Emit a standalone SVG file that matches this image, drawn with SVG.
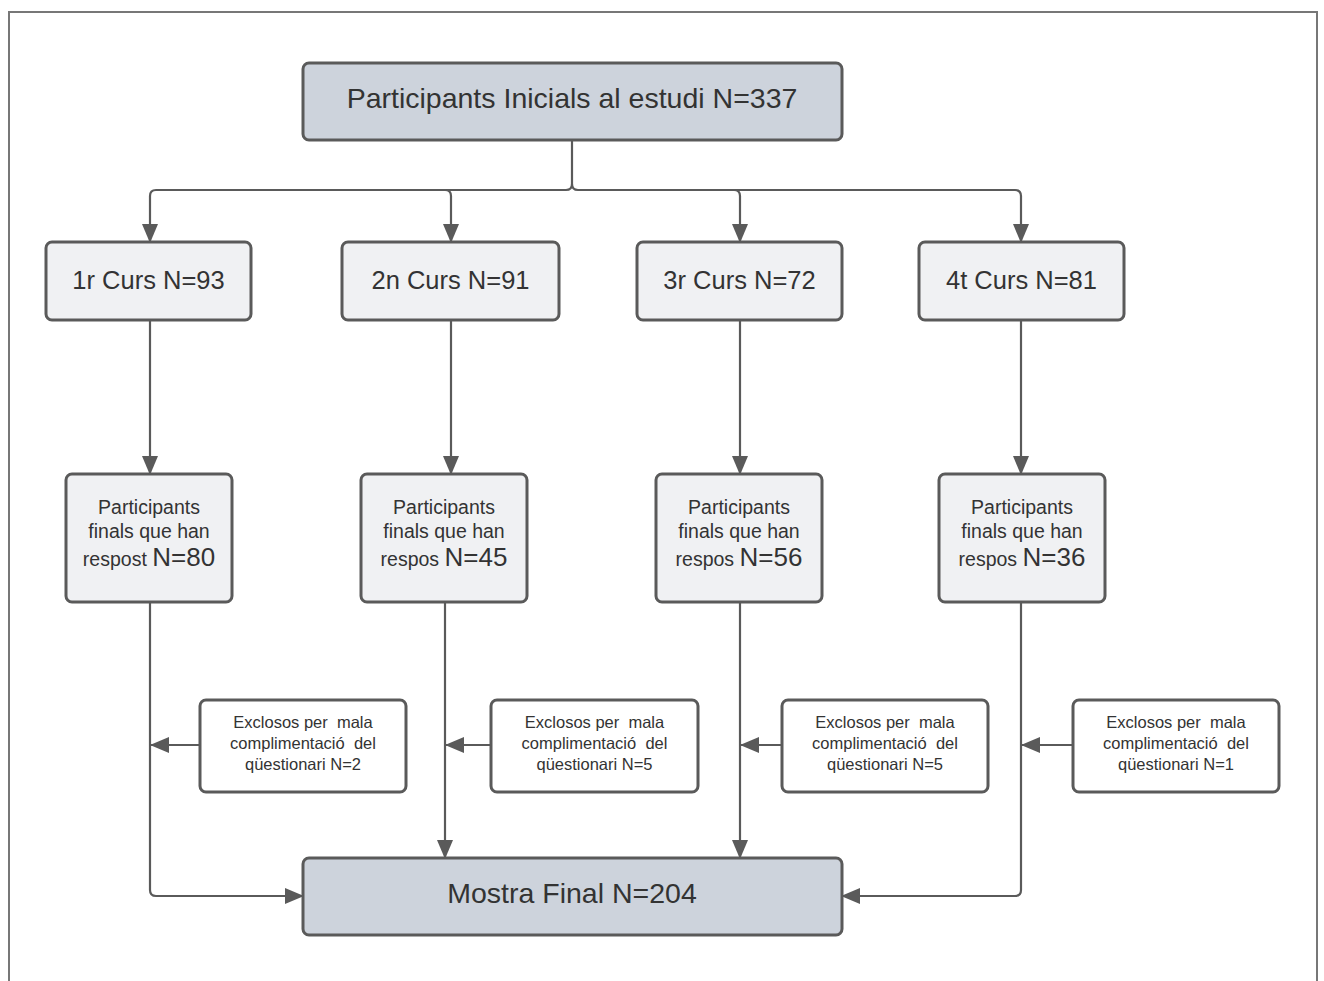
<svg xmlns="http://www.w3.org/2000/svg" width="1324" height="981" viewBox="0 0 1324 981">
<defs>
<marker id="ah" markerUnits="userSpaceOnUse" markerWidth="19" markerHeight="16" refX="18" refY="8" orient="auto">
<path d="M0,0 L19,8 L0,16 Z" fill="#5a5a5a"/>
</marker>
<style>
.frame{fill:none;stroke:#777;stroke-width:2}
.dark{fill:#cdd3dc;stroke:#5a5a5a;stroke-width:3}
.light{fill:#f0f1f3;stroke:#5a5a5a;stroke-width:3}
.white{fill:#fff;stroke:#5a5a5a;stroke-width:3}
.conn{fill:none;stroke:#5a5a5a;stroke-width:2.2}
text{font-family:"Liberation Sans",Arial,sans-serif;fill:#333;text-anchor:middle}
.big{font-size:28.5px}
.mid{font-size:25.5px}
.n{font-size:26px}
.sm{font-size:19.5px}
.xs{font-size:16.5px;white-space:pre}
</style>
</defs>
<rect width="1324" height="981" fill="#fff"/>
<path class="frame" d="M9,981 V12 H1317 V981"/>

<g id="connectors">
<path class="conn" d="M572,140 V184 Q572,190 566,190 H156 Q150,190 150,196 V242" marker-end="url(#ah)"/>
<path class="conn" d="M572,184 Q572,190 578,190 H1015 Q1021,190 1021,196 V242" marker-end="url(#ah)"/>
<path class="conn" d="M445,190 Q451,190 451,196 V242" marker-end="url(#ah)"/>
<path class="conn" d="M734,190 Q740,190 740,196 V242" marker-end="url(#ah)"/>
<path class="conn" d="M150,320 V474" marker-end="url(#ah)"/>
<path class="conn" d="M451,320 V474" marker-end="url(#ah)"/>
<path class="conn" d="M740,320 V474" marker-end="url(#ah)"/>
<path class="conn" d="M1021,320 V474" marker-end="url(#ah)"/>
<path class="conn" d="M150,602 V890 Q150,896 156,896 H303" marker-end="url(#ah)"/>
<path class="conn" d="M445,602 V858" marker-end="url(#ah)"/>
<path class="conn" d="M740,602 V858" marker-end="url(#ah)"/>
<path class="conn" d="M1021,602 V890 Q1021,896 1015,896 H842" marker-end="url(#ah)"/>
<path class="conn" d="M200,745 H151" marker-end="url(#ah)"/>
<path class="conn" d="M491,745 H446" marker-end="url(#ah)"/>
<path class="conn" d="M782,745 H741" marker-end="url(#ah)"/>
<path class="conn" d="M1073,745 H1022" marker-end="url(#ah)"/>
</g>

<g id="initial">
<rect class="dark" x="303" y="63" width="539" height="77" rx="6"/>
<text class="big" x="572" y="108">Participants Inicials al estudi N=337</text>
</g>

<g id="curs1"><rect class="light" x="46" y="242" width="205" height="78" rx="6"/><text class="mid" x="148.5" y="289">1r Curs N=93</text></g>
<g id="curs2"><rect class="light" x="342" y="242" width="217" height="78" rx="6"/><text class="mid" x="450.5" y="289">2n Curs N=91</text></g>
<g id="curs3"><rect class="light" x="637" y="242" width="205" height="78" rx="6"/><text class="mid" x="739.5" y="289">3r Curs N=72</text></g>
<g id="curs4"><rect class="light" x="919" y="242" width="205" height="78" rx="6"/><text class="mid" x="1021.5" y="289">4t Curs N=81</text></g>

<g id="final1"><rect class="light" x="66" y="474" width="166" height="128" rx="6"/>
<text class="sm" x="149" y="514">Participants</text><text class="sm" x="149" y="538">finals que han</text>
<text x="149" y="566"><tspan class="sm">respost </tspan><tspan class="n">N=80</tspan></text></g>
<g id="final2"><rect class="light" x="361" y="474" width="166" height="128" rx="6"/>
<text class="sm" x="444" y="514">Participants</text><text class="sm" x="444" y="538">finals que han</text>
<text x="444" y="566"><tspan class="sm">respos </tspan><tspan class="n">N=45</tspan></text></g>
<g id="final3"><rect class="light" x="656" y="474" width="166" height="128" rx="6"/>
<text class="sm" x="739" y="514">Participants</text><text class="sm" x="739" y="538">finals que han</text>
<text x="739" y="566"><tspan class="sm">respos </tspan><tspan class="n">N=56</tspan></text></g>
<g id="final4"><rect class="light" x="939" y="474" width="166" height="128" rx="6"/>
<text class="sm" x="1022" y="514">Participants</text><text class="sm" x="1022" y="538">finals que han</text>
<text x="1022" y="566"><tspan class="sm">respos </tspan><tspan class="n">N=36</tspan></text></g>

<g id="excl1"><rect class="white" x="200" y="700" width="206" height="92" rx="6"/>
<text class="xs" x="303" y="728">Exclosos per  mala</text><text class="xs" x="303" y="749">complimentació  del</text><text class="xs" x="303" y="770">qüestionari N=2</text></g>
<g id="excl2"><rect class="white" x="491" y="700" width="207" height="92" rx="6"/>
<text class="xs" x="594.5" y="728">Exclosos per  mala</text><text class="xs" x="594.5" y="749">complimentació  del</text><text class="xs" x="594.5" y="770">qüestionari N=5</text></g>
<g id="excl3"><rect class="white" x="782" y="700" width="206" height="92" rx="6"/>
<text class="xs" x="885" y="728">Exclosos per  mala</text><text class="xs" x="885" y="749">complimentació  del</text><text class="xs" x="885" y="770">qüestionari N=5</text></g>
<g id="excl4"><rect class="white" x="1073" y="700" width="206" height="92" rx="6"/>
<text class="xs" x="1176" y="728">Exclosos per  mala</text><text class="xs" x="1176" y="749">complimentació  del</text><text class="xs" x="1176" y="770">qüestionari N=1</text></g>

<g id="mostra">
<rect class="dark" x="303" y="858" width="539" height="77" rx="6"/>
<text class="big" x="572" y="903">Mostra Final N=204</text>
</g>
</svg>
